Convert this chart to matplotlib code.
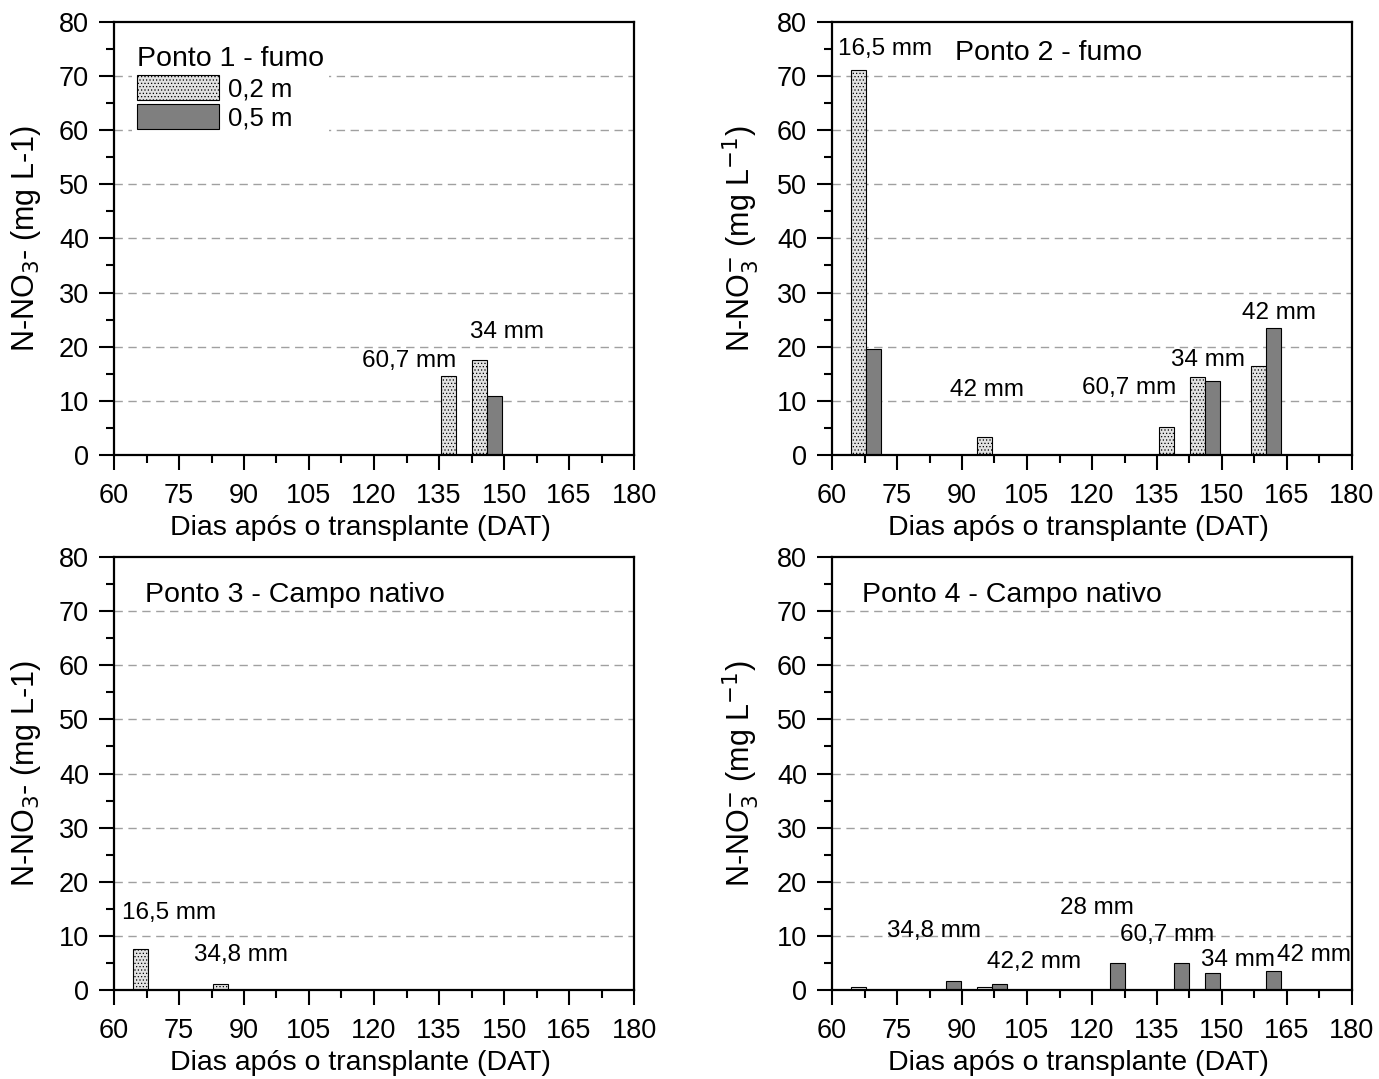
import matplotlib
matplotlib.use("Agg")
import matplotlib.pyplot as plt
from matplotlib.ticker import MultipleLocator
from matplotlib.patches import Patch

plt.rcParams['font.family'] = ['Liberation Sans', 'DejaVu Sans']
plt.rcParams['hatch.linewidth'] = 0.5
plt.rcParams['hatch.color'] = '#c4c4c4'

# ---- data ----
p1_dates = [139.0, 146.1]
p1_light = [14.6, 17.6]
p1_dark = [0.0, 10.9]

p2_dates = [67.8, 96.9, 139.0, 146.1, 160.1]
p2_light = [71.1, 3.3, 5.2, 14.4, 16.5]
p2_dark = [19.5, 0.0, 0.0, 13.6, 23.5]

p3_dates = [67.8, 86.3]
p3_light = [7.5, 1.05]
p3_dark = [0.0, 0.0]

p4_dates = [67.8, 86.3, 96.9, 124.2, 139.0, 146.1, 160.1]
p4_light = [0.6, 0.0, 0.5, 0.0, 0.0, 0.2, 0.0]
p4_dark = [0.0, 1.7, 1.2, 4.9, 4.9, 3.1, 3.5]

series_labels = ["0,2 m", "0,5 m"]
titles = ["Ponto 1 - fumo", "Ponto 2 - fumo", "Ponto 3 - Campo nativo", "Ponto 4 - Campo nativo"]
xlabel = "Dias após o transplante (DAT)"
ylabel_plain = "N-NO$_3$- (mg L-1)"
ylabel_sup = "N-NO$_3^{-}$ (mg L$^{-1}$)"

# annotations: (text, x day, y value)
p1_notes = [("60,7 mm", 117.3, 17.4), ("34 mm", 142.2, 22.7)]
p2_notes = [("16,5 mm", 61.3, 75.0), ("42 mm", 87.2, 12.0), ("60,7 mm", 117.6, 12.4),
            ("34 mm", 138.2, 17.5), ("42 mm", 154.6, 26.2)]
p3_notes = [("16,5 mm", 61.8, 14.3), ("34,8 mm", 78.5, 6.5)]
p4_notes = [("34,8 mm", 72.7, 10.9), ("42,2 mm", 95.8, 5.2), ("28 mm", 112.7, 15.2),
            ("60,7 mm", 126.5, 10.2), ("34 mm", 145.2, 5.5), ("42 mm", 162.6, 6.5)]

LIGHT = '#e2e2e2'
DARK = '#7f7f7f'
BW = 3.45

fig = plt.figure(figsize=(13.79, 10.79), dpi=100)
W, H = 1379.0, 1079.0

def make_ax(left, top, right, bottom):
    return fig.add_axes([left / W, 1 - bottom / H, (right - left) / W, (bottom - top) / H])

axes = [make_ax(114, 21.7, 634, 455), make_ax(832, 21.7, 1352, 455),
        make_ax(114, 557, 634, 990), make_ax(832, 557, 1352, 990)]

data = [(p1_dates, p1_light, p1_dark, p1_notes, ylabel_plain),
        (p2_dates, p2_light, p2_dark, p2_notes, ylabel_sup),
        (p3_dates, p3_light, p3_dark, p3_notes, ylabel_plain),
        (p4_dates, p4_light, p4_dark, p4_notes, ylabel_sup)]

for i, (ax, (dates, light, dark, notes, ylab)) in enumerate(zip(axes, data)):
    ax.set_xlim(60, 180)
    ax.set_ylim(0, 80)
    for y in range(10, 80, 10):
        ax.axhline(y, color='#a0a0a0', lw=1.0, dashes=(6, 4), zorder=0)
    lx = [d - BW / 2 for d in dates]
    dx = [d + BW / 2 for d in dates]
    ax.bar(lx, light, width=BW, color=LIGHT, edgecolor='black', linewidth=0.8,
           hatch='.....', zorder=2)
    ax.bar(dx, dark, width=BW, color=DARK, edgecolor='black', linewidth=0.8, zorder=2)
    ax.xaxis.set_major_locator(MultipleLocator(15))
    ax.xaxis.set_minor_locator(MultipleLocator(7.5))
    ax.yaxis.set_major_locator(MultipleLocator(10))
    ax.yaxis.set_minor_locator(MultipleLocator(5))
    ax.tick_params(which='major', direction='out', length=11, width=1.5, labelsize=19.5, pad=7)
    ax.tick_params(which='minor', direction='out', length=6, width=1.5)
    ax.tick_params(axis='x', which='major', pad=9)
    for s in ax.spines.values():
        s.set_linewidth(1.6)
        s.set_zorder(5)
    ax.set_xlabel(xlabel, fontsize=20.5)
    ax.xaxis.set_label_coords(0.473, -0.138)
    ax.set_ylabel(ylab, fontsize=22)
    ax.yaxis.set_label_coords(-0.137, 0.5)
    for txt, x, y in notes:
        ax.text(x, y, txt, fontsize=17.5, ha='left', va='center', zorder=4)
    if i == 0:
        handles = [Patch(facecolor=LIGHT, edgecolor='black', hatch='.....', linewidth=0.8),
                   Patch(facecolor=DARK, edgecolor='black', linewidth=0.8)]
        leg = ax.legend(handles, series_labels, title=titles[0], loc='upper left',
                        bbox_to_anchor=(0.01, 0.985), fontsize=18.5, title_fontsize=20.5,
                        handlelength=3.2, handleheight=1.1, labelspacing=0.12,
                        handletextpad=0.35, borderpad=0.2, frameon=True, fancybox=False,
                        framealpha=1, edgecolor='none', facecolor='white')
        leg._legend_box.align = 'left'
        leg.set_zorder(6)
    else:
        tx = {1: 88.4, 2: 67.2, 3: 66.9}[i]
        ax.text(tx, 74.2 if i == 1 else 73.0, titles[i], fontsize=20.5, ha='left', va='center')

fig.savefig('out.png', dpi=100)
